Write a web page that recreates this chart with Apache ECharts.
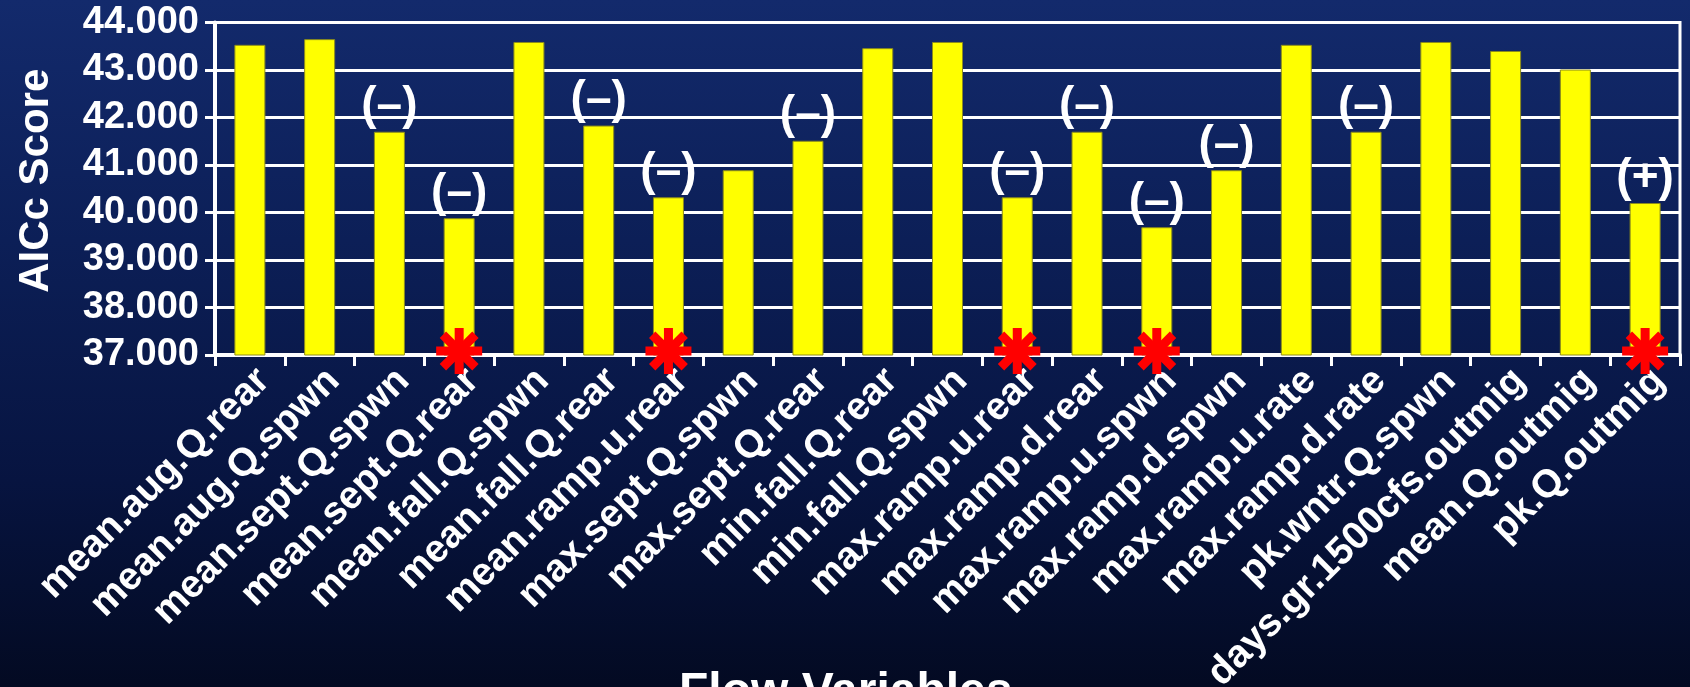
<!DOCTYPE html>
<html>
<head>
<meta charset="utf-8">
<script src="https://cdn.jsdelivr.net/npm/echarts@6/dist/echarts.min.js"></script>
<style>
  html, body { margin: 0; padding: 0; background: #071542; }
  #chart { width: 1690px; height: 687px; }
</style>
</head>
<body>
<div id="chart"></div>
<script>
// Flow variables tested, and the AICc score of each model
const categories = [
  'mean.aug.Q.rear', 'mean.aug.Q.spwn', 'mean.sept.Q.spwn', 'mean.sept.Q.rear',
  'mean.fall.Q.spwn', 'mean.fall.Q.rear', 'mean.ramp.u.rear', 'max.sept.Q.spwn',
  'max.sept.Q.rear', 'min.fall.Q.rear', 'min.fall.Q.spwn', 'max.ramp.u.rear',
  'max.ramp.d.rear', 'max.ramp.u.spwn', 'max.ramp.d.spwn', 'max.ramp.u.rate',
  'max.ramp.d.rate', 'pk.wntr.Q.spwn', 'days.gr.1500cfs.outmig', 'mean.Q.outmig',
  'pk.Q.outmig'
];
const aiccScores = [
  43.53, 43.65, 41.70, 39.88,
  43.59, 41.83, 40.32, 40.89,
  41.51, 43.46, 43.59, 40.32,
  41.70, 39.69, 40.89, 43.53,
  41.70, 43.59, 43.40, 43.01,
  40.20
];
// Direction of the effect shown above a bar
const effectSigns = [
  '', '', '(–)', '(–)',
  '', '(–)', '(–)', '',
  '(–)', '', '', '(–)',
  '(–)', '(–)', '(–)', '',
  '(–)', '', '', '',
  '(+)'
];
// Variables marked with a red asterisk at the base of the bar
const starred = ['mean.sept.Q.rear', 'mean.ramp.u.rear', 'max.ramp.u.rear', 'max.ramp.u.spwn', 'pk.Q.outmig'];
const yTicks = { min: 37, max: 44, step: 1 };

const FONT = '"Liberation Sans", Arial, sans-serif';
const chart = echarts.init(document.getElementById('chart'), null, { renderer: 'canvas' });

function renderAsterisk(params, api) {
  const p = api.coord([api.value(0), api.value(1)]);
  const cx = p[0], cy = p[1] - 4;
  const r = 23;
  const d = r * Math.SQRT1_2;
  const style = { stroke: '#ff0000', lineWidth: 9, lineCap: 'butt' };
  const seg = (x1, y1, x2, y2) => ({ type: 'line', shape: { x1, y1, x2, y2 }, style });
  return {
    type: 'group',
    children: [
      seg(cx - r, cy, cx + r, cy),
      seg(cx, cy - r, cx, cy + r),
      seg(cx - d, cy - d, cx + d, cy + d),
      seg(cx - d, cy + d, cx + d, cy - d)
    ]
  };
}

chart.setOption({
  backgroundColor: {
    type: 'linear', x: 0, y: 0, x2: 0, y2: 1,
    colorStops: [
      { offset: 0, color: '#132a6c' },
      { offset: 0.35, color: '#0c1f57' },
      { offset: 0.7, color: '#071440' },
      { offset: 1, color: '#030a22' }
    ]
  },
  animation: false,
  grid: {
    left: 215, right: 10, top: 22.5, bottom: 332,
    containLabel: false, outerBoundsMode: 'none',
    show: true, borderColor: '#ffffff', borderWidth: 3, backgroundColor: 'transparent'
  },
  xAxis: {
    type: 'category',
    data: categories,
    boundaryGap: true,
    axisLine: { show: true, lineStyle: { color: '#ffffff', width: 4 } },
    axisTick: { show: true, alignWithLabel: false, length: 11, lineStyle: { color: '#ffffff', width: 3 } },
    axisLabel: {
      interval: 0, rotate: 45, margin: 6, verticalAlign: 'top',
      color: '#ffffff', fontFamily: FONT, fontWeight: 'bold', fontSize: 39
    }
  },
  yAxis: {
    type: 'value',
    min: yTicks.min, max: yTicks.max, interval: yTicks.step,
    name: 'AICc Score',
    nameLocation: 'middle', nameRotate: 90, nameGap: 158,
    nameTextStyle: { color: '#ffffff', fontFamily: FONT, fontWeight: 'bold', fontSize: 42, padding: [0, 0, 0, 16] },
    axisLine: { show: true, lineStyle: { color: '#ffffff', width: 4 } },
    axisTick: { show: true, inside: false, length: 10, lineStyle: { color: '#ffffff', width: 3 } },
    axisLabel: {
      margin: 16, color: '#ffffff', fontFamily: FONT, fontWeight: 'bold', fontSize: 38,
      formatter: v => v.toFixed(3)
    },
    splitLine: { show: true, lineStyle: { color: '#ffffff', width: 3 } }
  },
  series: [
    {
      type: 'bar',
      data: aiccScores,
      barWidth: 31,
      itemStyle: { color: '#ffff00', borderColor: '#8c8c1c', borderWidth: 1 },
      label: {
        show: true, position: 'top', distance: 2,
        color: '#ffffff', fontFamily: FONT, fontWeight: 'bold', fontSize: 46,
        formatter: p => effectSigns[p.dataIndex]
      },
      z: 2
    },
    {
      type: 'custom',
      renderItem: renderAsterisk,
      data: starred.map(name => [categories.indexOf(name), yTicks.min]),
      clip: false,
      z: 10
    }
  ],
  graphic: [
    {
      type: 'text', left: 679, top: 669,
      style: { text: 'Flow Variables', fill: '#ffffff', font: 'bold 48px ' + FONT }
    }
  ]
});
</script>
</body>
</html>
